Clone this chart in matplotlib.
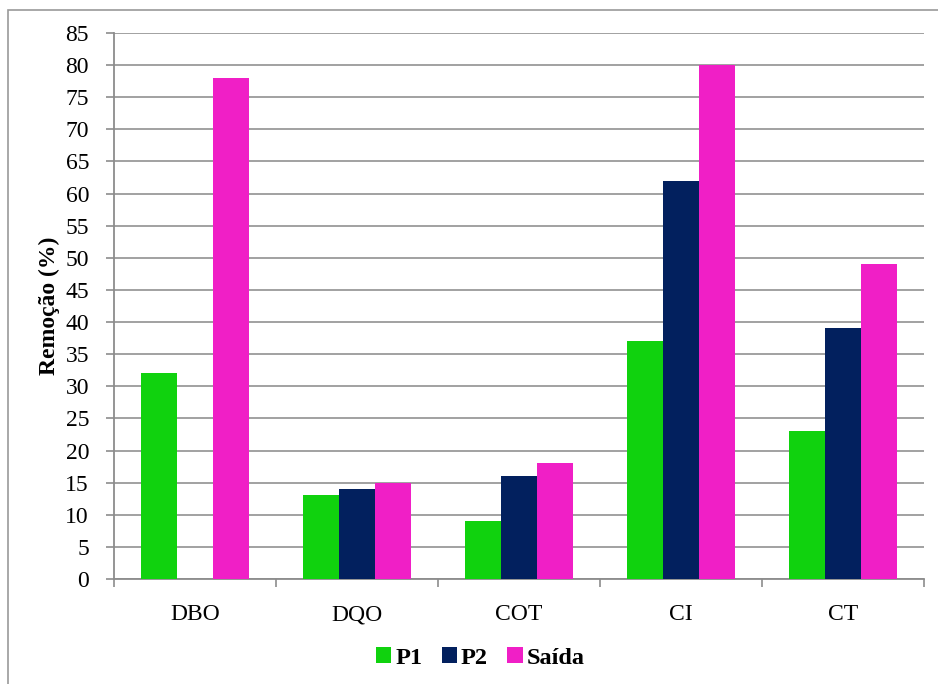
import matplotlib
matplotlib.use("Agg")
import matplotlib.pyplot as plt
import numpy as np
from matplotlib.patches import Rectangle

categories = ["DBO", "DQO", "COT", "CI", "CT"]
series_names = ["P1", "P2", "Saída"]
p1 = [32, 13, 9, 37, 23]
p2 = [0, 14, 16, 62, 39]
saida = [78, 15, 18, 80, 49]
colors = ["#10D20E", "#02205E", "#F01FC6"]
y_ticks = list(range(0, 90, 5))

plt.rcParams["font.family"] = ["Liberation Serif", "DejaVu Serif"]

W, H = 938, 684
fig = plt.figure(figsize=(W / 100, H / 100), dpi=100)
ax = fig.add_axes([114 / W, 1 - 579 / H, (924 - 114) / W, (579 - 33) / H])

# outer chart frame
fig.patches.append(Rectangle((8 / W, -0.05), 1.2, 1 - 10 / H + 0.05,
                             transform=fig.transFigure, fill=False,
                             edgecolor="#9a9a9a", linewidth=1.2))

x = np.arange(len(categories))
bw = 0.222
for i, (vals, name) in enumerate(zip([p1, p2, saida], series_names)):
    ax.bar(x + (i - 1) * bw, vals, width=bw, color=colors[i], label=name,
           zorder=3, linewidth=0)

ax.set_xlim(-0.5, len(categories) - 0.5)
ax.set_ylim(0, 85)
ax.set_yticks(y_ticks)
ax.set_yticklabels([str(t) for t in y_ticks], fontsize=17)
ax.set_xticks(x)
ax.set_xticklabels(categories, fontsize=17)
ax.tick_params(axis="x", length=0, pad=18)
ax.set_xticks(np.arange(-0.5, len(categories)), minor=True)
ax.tick_params(axis="x", which="minor", length=6, color="#8c8c8c", width=1.2)
ax.tick_params(axis="y", length=6, color="#8c8c8c", width=1.2, pad=12)

ax.grid(axis="y", color="#9a9a9a", linewidth=1.3, zorder=0)
for s in ["top", "right"]:
    ax.spines[s].set_visible(False)
for s in ["left", "bottom"]:
    ax.spines[s].set_color("#8c8c8c")
    ax.spines[s].set_linewidth(1.3)

ax.set_ylabel("Remoção (%)", fontsize=17, fontweight="bold", labelpad=4)

leg = fig.legend(loc="center", bbox_to_anchor=(0.512, 1 - 658 / H), ncol=3,
                 frameon=False, prop={"size": 17.5, "weight": "bold"},
                 handlelength=0.65, handleheight=0.65, handletextpad=0.15,
                 columnspacing=0.8)

fig.savefig("out.png", dpi=100)
